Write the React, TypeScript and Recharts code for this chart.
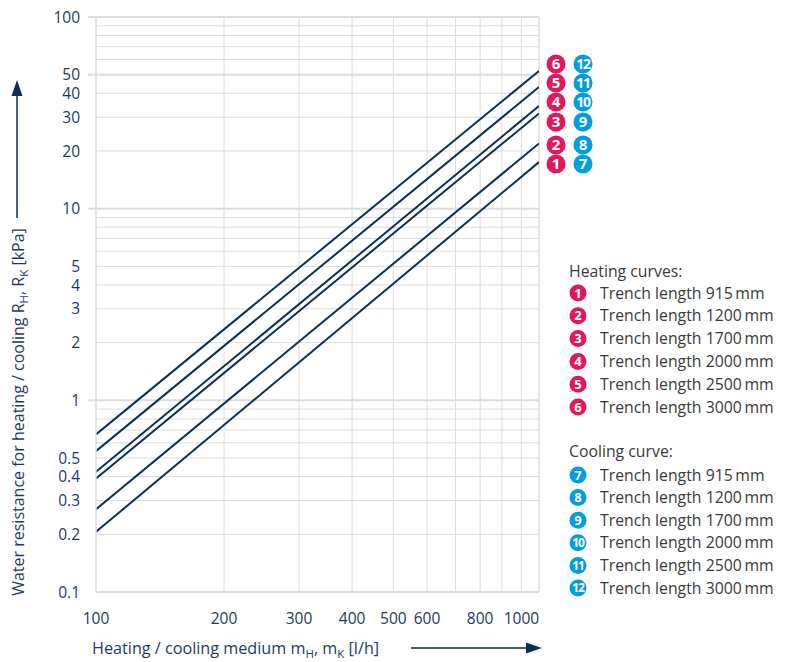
import React from "react"
import { CartesianGrid, Line, LineChart, ReferenceLine, XAxis, YAxis } from "recharts"

// flow rate at the two ends of every curve [l/h]
const flowRate = [100, 1100]

// water resistance [kPa] read at 100 l/h and 1100 l/h
const trench915 = [0.206, 17.5]
const trench1200 = [0.27, 21.9]
const trench1700 = [0.391, 31.4]
const trench2000 = [0.424, 34.3]
const trench2500 = [0.543, 43.1]
const trench3000 = [0.664, 52.3]

const xTicks = [100, 200, 300, 400, 500, 600, 800, 1000]
const xGrid = [200, 300, 400, 500, 600, 700, 800, 900, 1000]
const yTicks = [0.1, 0.2, 0.3, 0.4, 0.5, 1, 2, 3, 4, 5, 10, 20, 30, 40, 50, 100]
const yGrid = [
  0.2, 0.3, 0.4, 0.5, 0.6, 0.7, 0.8, 0.9, 2, 3, 4, 5, 6, 7, 8, 9, 20, 30, 40, 60, 70, 80, 90,
]
const yMajor = [1, 10, 50, 100]

const trenchLengths = ["915", "1200", "1700", "2000", "2500", "3000"]
const heatingBadges = ["1", "2", "3", "4", "5", "6"]
const coolingBadges = ["7", "8", "9", "10", "11", "12"]

const series = [trench915, trench1200, trench1700, trench2000, trench2500, trench3000]
const data = flowRate.map((flow, i) => {
  const row: Record<string, number> = { flow }
  series.forEach((s, k) => {
    row["t" + k] = s[i]
  })
  return row
})

const RED = "#e2185b"
const BLUE = "#009ee0"
const NAVY = "#0d2f55"
const TICK = "#1e3a64"
const GRID = "#dcdcdc"
const TEXT = "#3a3a3a"
const FONT = "'Open Sans', sans-serif"

function YTick(props: any) {
  const { x, y, payload } = props
  const major = yMajor.includes(payload.value)
  return (
    <g>
      {major && <line x1={x + 8} x2={x + 16} y1={y} y2={y} stroke={GRID} strokeWidth={2} />}
      <text x={x} y={y} dy="0.36em" textAnchor="end" fill={TICK} fontSize={15.5} fontFamily={FONT}>
        {payload.value}
      </text>
    </g>
  )
}

function XTick(props: any) {
  const { x, y, payload } = props
  return (
    <text x={x} y={y} dy="0.71em" textAnchor="middle" fill={TICK} fontSize={15.5} fontFamily={FONT}>
      {payload.value}
    </text>
  )
}

function Badge({ cx, cy, r, color, label, size }: any) {
  return (
    <g>
      <circle cx={cx} cy={cy} r={r} fill={color} />
      <text
        x={cx}
        y={cy}
        dy="0.36em"
        textAnchor="middle"
        fill="#fff"
        fontSize={label.length > 1 ? size - 1 : size}
        fontWeight={700}
        fontFamily={FONT}
        letterSpacing={label.length > 1 ? -1.2 : 0}
      >
        {label}
      </text>
    </g>
  )
}

const badgeY = [164, 145, 122, 102, 83, 64]

export default function App() {
  return (
    <div style={{ position: "absolute", left: 0, top: 0, width: 787, height: 662, background: "#fff" }}>
      <LineChart width={787} height={662} data={data} margin={{ top: 17, right: 248, bottom: 0, left: 0 }}>
        <CartesianGrid
          stroke={GRID}
          strokeWidth={1}
          horizontalValues={yGrid}
          verticalValues={xGrid}
        />
        {yMajor.map((v) => (
          <ReferenceLine key={"y" + v} y={v} stroke={GRID} strokeWidth={2} />
        ))}
        <ReferenceLine x={1100} stroke={GRID} strokeWidth={1.5} />
        <XAxis
          dataKey="flow"
          type="number"
          scale="log"
          domain={[100, 1100]}
          ticks={xTicks}
          interval={0}
          allowDataOverflow
          height={70}
          tickSize={8}
          tickMargin={13}
          tickLine={false}
          axisLine={{ stroke: GRID, strokeWidth: 2 }}
          tick={<XTick />}
        />
        <YAxis
          type="number"
          scale="log"
          domain={[0.1, 100]}
          ticks={yTicks}
          interval={0}
          allowDataOverflow
          width={96}
          tickSize={8}
          tickMargin={8}
          tickLine={false}
          axisLine={{ stroke: GRID, strokeWidth: 1.5 }}
          tick={<YTick />}
        />
        {series.map((_, k) => (
          <Line
            key={k}
            dataKey={"t" + k}
            type="linear"
            stroke={NAVY}
            strokeWidth={2}
            dot={false}
            isAnimationActive={false}
          />
        ))}
      </LineChart>
      <svg
        width={787}
        height={662}
        style={{ position: "absolute", left: 0, top: 0, pointerEvents: "none" }}
        fontFamily={FONT}
      >
        {/* y axis title and arrow */}
        <text transform="translate(24,412) rotate(-90)" textAnchor="middle" fill={TICK} fontSize={16}>
          Water resistance for heating / cooling R
          <tspan fontSize={11.5} dy={4}>H</tspan>
          <tspan dy={-4}>, R</tspan>
          <tspan fontSize={11.5} dy={4}>K</tspan>
          <tspan dy={-4}> [kPa]</tspan>
        </text>
        <line x1={17} x2={17} y1={218} y2={94} stroke={NAVY} strokeWidth={1.5} />
        <polygon points="17,80 11.5,96 22.5,96" fill={NAVY} />

        {/* x axis title and arrow */}
        <text x={92} y={654} fill={TICK} fontSize={16.2}>
          Heating / cooling medium m
          <tspan fontSize={11.5} dy={4}>H</tspan>
          <tspan dy={-4}>, m</tspan>
          <tspan fontSize={11.5} dy={4}>K</tspan>
          <tspan dy={-4}> [l/h]</tspan>
        </text>
        <line x1={411} x2={528} y1={648} y2={648} stroke={NAVY} strokeWidth={1.5} />
        <polygon points="542,648 526,642.5 526,653.5" fill={NAVY} />

        {/* curve numbers */}
        {badgeY.map((y, i) => (
          <g key={i}>
            <Badge cx={556} cy={y} r={9.5} color={RED} label={heatingBadges[i]} size={15} />
            <Badge cx={583} cy={y} r={9.5} color={BLUE} label={coolingBadges[i]} size={15} />
          </g>
        ))}

        {/* legend */}
        <text x={569} y={277} fill={TEXT} fontSize={15.8}>
          Heating curves:
        </text>
        {trenchLengths.map((len, i) => (
          <g key={"h" + i}>
            <Badge cx={578} cy={293 + i * 22.8} r={8.5} color={RED} label={heatingBadges[i]} size={13} />
            <text x={600} y={293 + i * 22.8} dy="0.36em" fill={TEXT} fontSize={15.8}>
              Trench length {len}
              {"\u2009"}mm
            </text>
          </g>
        ))}
        <text x={569} y={457} fill={TEXT} fontSize={15.8}>
          Cooling curve:
        </text>
        {trenchLengths.map((len, i) => (
          <g key={"c" + i}>
            <Badge cx={578} cy={475 + i * 22.6} r={8.5} color={BLUE} label={coolingBadges[i]} size={13} />
            <text x={600} y={475 + i * 22.6} dy="0.36em" fill={TEXT} fontSize={15.8}>
              Trench length {len}
              {"\u2009"}mm
            </text>
          </g>
        ))}
      </svg>
    </div>
  )
}
